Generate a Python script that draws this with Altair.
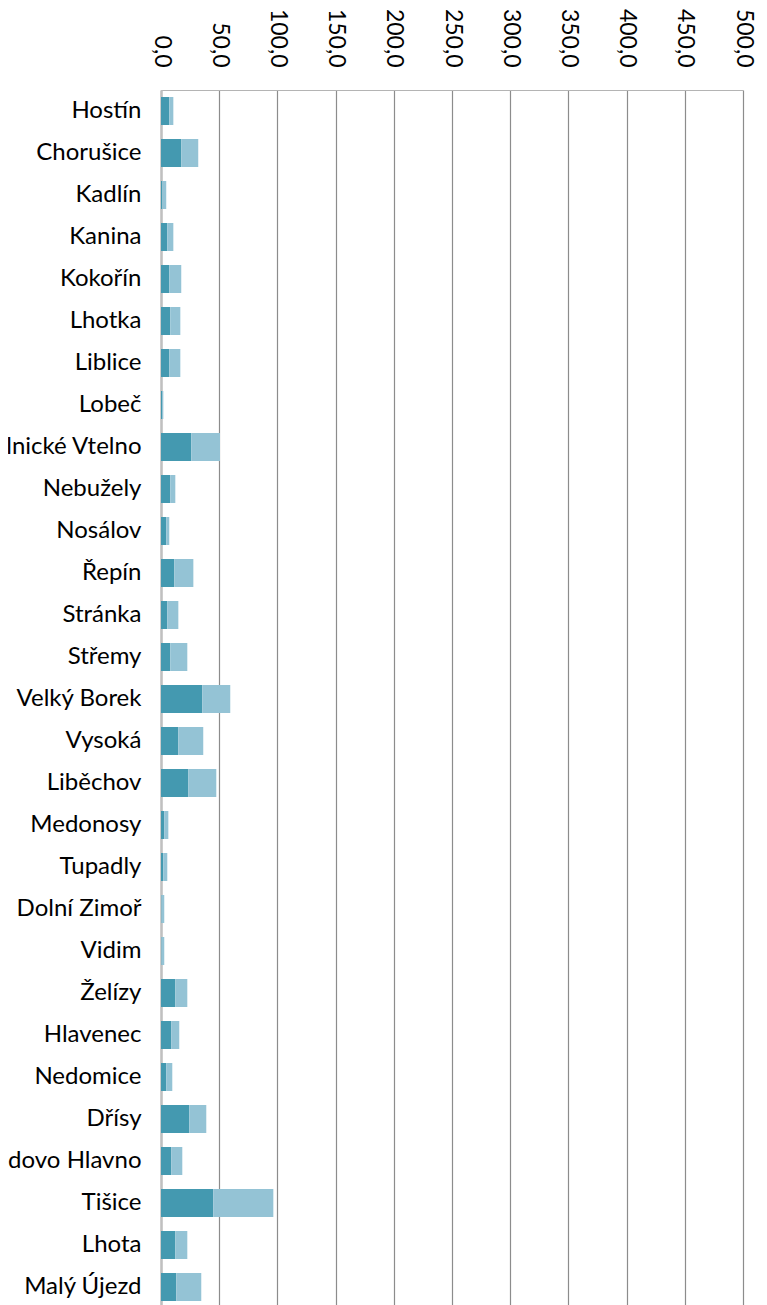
import altair as alt
import pandas as pd

obce = ["Hostín", "Chorušice", "Kadlín", "Kanina", "Kokořín", "Lhotka", "Liblice",
        "Lobeč", "Mělnické Vtelno", "Nebužely", "Nosálov", "Řepín", "Stránka",
        "Střemy", "Velký Borek", "Vysoká", "Liběchov", "Medonosy", "Tupadly",
        "Dolní Zimoř", "Vidim", "Želízy", "Hlavenec", "Nedomice", "Dřísy",
        "Sudovo Hlavno", "Tišice", "Lhota", "Malý Újezd"]

serie_a = [7.1, 17.4, 1.1, 5.4, 7.1, 8.0, 7.1,
           0.9, 26.0, 8.0, 4.5, 11.4, 5.4,
           8.0, 35.5, 14.9, 23.5, 2.8, 2.0,
           0.4, 0.4, 12.3, 8.9, 4.5, 24.3,
           8.9, 44.9, 12.3, 13.1]

serie_b = [3.5, 14.6, 3.4, 5.2, 10.3, 8.6, 9.5,
           1.1, 24.7, 4.3, 2.6, 16.4, 9.5,
           14.6, 24.0, 21.4, 24.0, 3.5, 3.4,
           2.4, 2.4, 10.3, 6.8, 5.2, 14.6,
           9.4, 51.6, 10.3, 21.5]

serie_nazvy = ["A", "B"]
barvy = ["#4499b0", "#94c3d5"]

rows = []
for i, o in enumerate(obce):
    rows.append({"obec": o, "serie": serie_nazvy[0], "poradi": 0, "hodnota": serie_a[i]})
    rows.append({"obec": o, "serie": serie_nazvy[1], "poradi": 1, "hodnota": serie_b[i]})
df = pd.DataFrame(rows)

FONT = "Lato"

chart = alt.Chart(df).mark_bar().encode(
    y=alt.Y("obec:N", sort=obce,
            scale=alt.Scale(paddingInner=1/3, paddingOuter=1/6),
            axis=alt.Axis(title=None, ticks=False, labelPadding=20,
                          labelFontSize=24, labelFont=FONT, labelColor="#000000",
                          labelLimit=400,
                          domainColor="#c0c0c0", domainWidth=2.5, grid=False)),
    x=alt.X("hodnota:Q", stack="zero",
            scale=alt.Scale(domain=[0, 500], nice=False),
            axis=alt.Axis(orient="top", title=None, values=list(range(0, 501, 50)),
                          ticks=False, labelAngle=90, labelPadding=23,
                          labelFontSize=23, labelFont=FONT, labelColor="#000000",
                          labelExpr="replace(format(datum.value, '.1f'), '.', ',')",
                          domainColor="#b4b4b4", domainWidth=1.2,
                          grid=True, gridColor="#8c8c8c", gridWidth=1.2)),
    color=alt.Color("serie:N", scale=alt.Scale(domain=serie_nazvy, range=barvy), legend=None),
    order=alt.Order("poradi:Q"),
).properties(
    width=582,
    height=alt.Step(42),
    padding={"left": 153, "top": 82, "right": 16, "bottom": 4},
    autosize=alt.AutoSizeParams(type="none"),
).configure_view(strokeWidth=0)

chart.save("out.html", embed_options={"renderer": "svg", "actions": False})
